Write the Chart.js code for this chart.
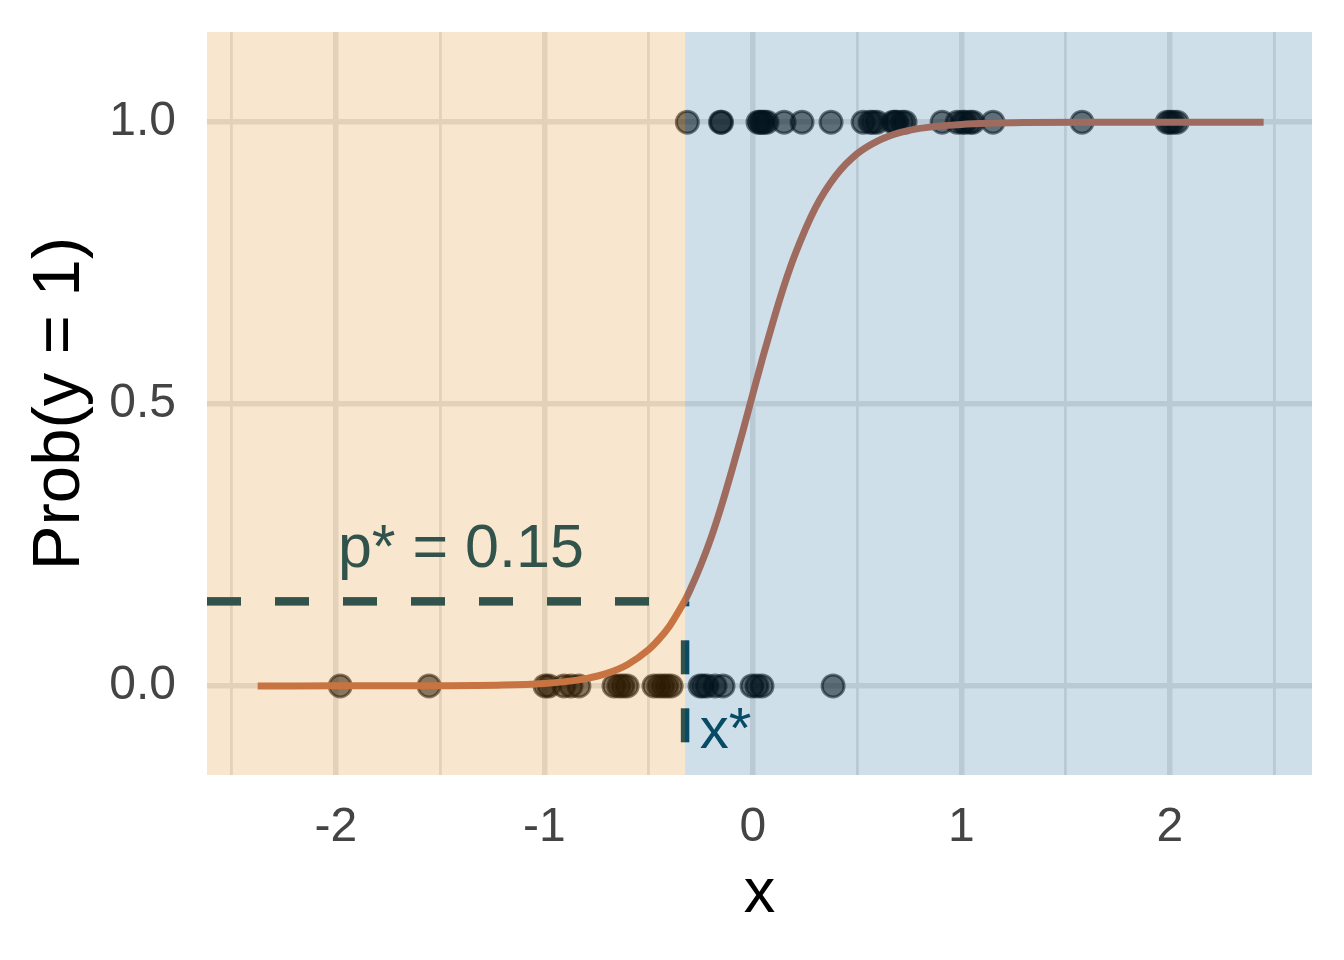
<!DOCTYPE html>
<html>
<head>
<meta charset="utf-8">
<title>Prob(y = 1)</title>
<script src="https://cdn.jsdelivr.net/npm/chart.js@4.4.1/dist/chart.umd.min.js"></script>
<style>
  body { margin: 0; background: #ffffff; }
  #wrap { width: 1344px; height: 960px; }
</style>
</head>
<body>
<div id="wrap"><canvas id="chart" width="1344" height="960"></canvas></div>
<script>
// axis ranges and ticks
const xMin = -2.618;
const xMax = 2.682;
const yMin = -0.158;
const yMax = 1.16;
const xTicks = [-2.5, -2, -1.5, -1, -0.5, 0, 0.5, 1, 1.5, 2, 2.5];
const xTickLabels = ["", "-2", "", "-1", "", "0", "", "1", "", "2", ""];
const yTicks = [0, 0.5, 1];
const yTickLabels = ["0.0", "0.5", "1.0"];

// threshold
const xStar = -0.325;
const pStar = 0.15;
const xStarBottom = -0.1;

// observations with y = 1
const xOnes = [-0.314, -0.155, -0.15, 0.025, 0.035, 0.044, 0.054, 0.068, 0.15, 0.236,
  0.375, 0.529, 0.562, 0.577, 0.596, 0.672, 0.682, 0.691, 0.716, 0.73,
  0.908, 0.98, 1.004, 1.018, 1.042, 1.056, 1.152, 1.579, 1.987, 2.001, 2.016, 2.035];

// observations with y = 0
const xZeros = [-1.979, -1.553, -0.997, -0.978, -0.906, -0.872, -0.834,
  -0.666, -0.642, -0.623, -0.603, -0.474, -0.45, -0.431, -0.412, -0.392,
  -0.253, -0.239, -0.22, -0.181, -0.143, -0.004, 0.02, 0.044, 0.385];

// fitted probability curve
const curveX = [-2.375, -2.0, -1.5, -1.2, -1.0, -0.9, -0.8, -0.7, -0.6, -0.5, -0.45, -0.4,
  -0.35, -0.325, -0.3, -0.25, -0.2, -0.15, -0.1, -0.05, 0, 0.05, 0.1, 0.15, 0.2, 0.3, 0.4,
  0.5, 0.6, 0.7, 0.8, 1.0, 1.3, 1.6, 2.0, 2.45];
const curveP = [0.0, 0.0001, 0.0003, 0.0015, 0.0044, 0.0076, 0.013, 0.0223, 0.0381, 0.0643, 0.0829, 0.106,
  0.136, 0.152, 0.171, 0.214, 0.263, 0.32, 0.383, 0.449, 0.518, 0.586, 0.65, 0.71, 0.763, 0.848, 0.906,
  0.944, 0.967, 0.981, 0.989, 0.996, 0.9993, 0.9998, 1.0, 1.0];

const annoColor = "#08465c";
const fontFamily = "'Liberation Sans', Arial, Helvetica, sans-serif";

// text labels and the two tinted regions laid over the panel
const regionPlugin = {
  id: "regions",
  afterDatasetsDraw(chart) {
    const { ctx, chartArea, scales } = chart;
    const sx = scales.x;
    const sy = scales.y;
    ctx.save();
    ctx.fillStyle = annoColor;
    ctx.textBaseline = "alphabetic";
    ctx.textAlign = "left";
    ctx.font = "61px " + fontFamily;
    ctx.fillText("p* = 0.15", sx.getPixelForValue(-1.99), sy.getPixelForValue(0.211));
    ctx.font = "58px " + fontFamily;
    ctx.fillText("x*", sx.getPixelForValue(-0.255), sy.getPixelForValue(-0.11));

    const xs = sx.getPixelForValue(xStar);
    ctx.fillStyle = "rgba(220, 135, 10, 0.2)";
    ctx.fillRect(chartArea.left, chartArea.top, xs - chartArea.left, chartArea.bottom - chartArea.top);
    ctx.fillStyle = "rgba(10, 95, 150, 0.2)";
    ctx.fillRect(xs, chartArea.top, chartArea.right - xs, chartArea.bottom - chartArea.top);
    ctx.restore();
  }
};

const pointColor = "rgba(0, 0, 0, 0.55)";

const ctx = document.getElementById("chart").getContext("2d");
new Chart(ctx, {
  type: "scatter",
  data: {
    datasets: [
      {
        label: "curve",
        data: curveX.map((x, i) => ({ x: x, y: curveP[i] })),
        showLine: true,
        borderColor: "#c46f50",
        borderWidth: 7,
        pointRadius: 0,
        cubicInterpolationMode: "monotone",
        fill: false
      },
      {
        label: "p star",
        data: [{ x: xMin, y: pStar }, { x: xStar, y: pStar }],
        showLine: true,
        borderColor: annoColor,
        borderWidth: 8.5,
        borderDash: [34, 34],
        borderCapStyle: "butt",
        pointRadius: 0
      },
      {
        label: "x star",
        data: [{ x: xStar, y: xStarBottom }, { x: xStar, y: pStar }],
        showLine: true,
        borderColor: annoColor,
        borderWidth: 8.5,
        borderDash: [34, 34],
        borderCapStyle: "butt",
        pointRadius: 0
      },
      {
        label: "y = 1",
        data: xOnes.map((x) => ({ x: x, y: 1 })),
        backgroundColor: pointColor,
        borderColor: pointColor,
        borderWidth: 3,
        pointRadius: 11
      },
      {
        label: "y = 0",
        data: xZeros.map((x) => ({ x: x, y: 0 })),
        backgroundColor: pointColor,
        borderColor: pointColor,
        borderWidth: 3,
        pointRadius: 11
      }
    ]
  },
  options: {
    responsive: false,
    animation: false,
    devicePixelRatio: 1,
    layout: { padding: { top: 32, right: 32, left: 0, bottom: 0 } },
    plugins: {
      legend: { display: false },
      tooltip: { enabled: false }
    },
    scales: {
      x: {
        type: "linear",
        min: xMin,
        max: xMax,
        afterBuildTicks(scale) {
          scale.ticks = xTicks.map((v) => ({ value: v }));
        },
        afterFit(scale) {
          scale.height = 185;
          scale.paddingLeft = 0;
          scale.paddingRight = 0;
        },
        grid: {
          color: "#e5e5e5",
          lineWidth: (c) => (c.tick && Number.isInteger(c.tick.value) ? 5.5 : 2.8),
          drawTicks: false
        },
        border: { display: false },
        ticks: {
          autoSkip: false,
          maxRotation: 0,
          padding: 24,
          color: "#444444",
          font: { family: fontFamily, size: 48 },
          callback: (v, i) => xTickLabels[i]
        },
        title: {
          display: true,
          text: "x",
          color: "#000000",
          font: { family: fontFamily, size: 63 },
          padding: { top: 0, bottom: 28 }
        }
      },
      y: {
        type: "linear",
        min: yMin,
        max: yMax,
        afterBuildTicks(scale) {
          scale.ticks = yTicks.map((v) => ({ value: v }));
        },
        afterFit(scale) {
          scale.width = 207;
          scale.paddingTop = 0;
          scale.paddingBottom = 0;
        },
        grid: {
          color: "#e5e5e5",
          lineWidth: 5.5,
          drawTicks: false
        },
        border: { display: false },
        ticks: {
          padding: 31,
          color: "#444444",
          font: { family: fontFamily, size: 48 },
          callback: (v, i) => yTickLabels[i]
        },
        title: {
          display: true,
          text: "Prob(y = 1)",
          color: "#000000",
          font: { family: fontFamily, size: 67 },
          padding: { top: 20, bottom: 0 }
        }
      }
    }
  },
  plugins: [regionPlugin]
});
</script>
</body>
</html>
